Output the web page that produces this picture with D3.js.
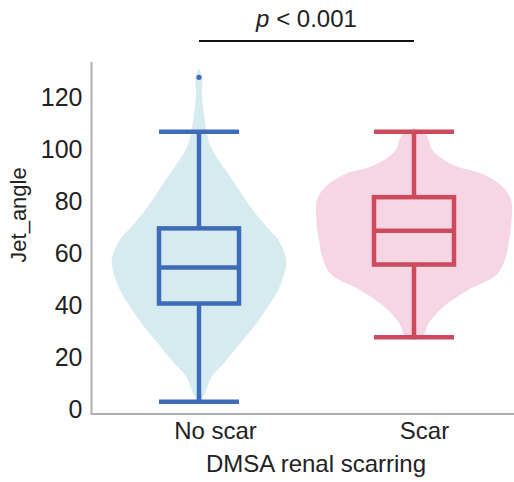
<!DOCTYPE html>
<html>
<head>
<meta charset="utf-8">
<script src="https://cdn.jsdelivr.net/npm/d3@7/dist/d3.min.js"></script>
<style>
  html, body { margin: 0; padding: 0; background: #fff; }
  svg text { font-family: "Liberation Sans", Arial, sans-serif; fill: #222; }
</style>
</head>
<body>
<svg id="chart" width="514" height="482"></svg>
<script>
// Groups on the x axis
const categories = ["No scar", "Scar"];

// Box-plot summaries per group: whisker low, Q1, median, Q3, whisker high
const whiskerLow  = [2.8, 27.6];
const q1          = [40.6, 55.6];
const median      = [54.5, 68.6];
const q3          = [69.5, 81.5];
const whiskerHigh = [106.7, 106.7];
const outliers    = [[127.6], []];

// Kernel density profiles (value, relative density) for each violin
const densityNoScar = [
  [2.3, 0.00], [6, 0.06], [12.4, 0.13], [18.8, 0.28], [25.3, 0.42],
  [31.7, 0.56], [38, 0.68], [44.5, 0.79], [50.9, 0.86], [57.3, 0.89],
  [65, 0.81], [70.1, 0.69], [76.5, 0.55], [83, 0.43], [89.3, 0.32],
  [95.8, 0.20], [102, 0.11], [108.6, 0.07], [115, 0.045], [121.4, 0.03],
  [127.6, 0.035], [131, 0.0]
];
const densityScar = [
  [26.5, 0.00], [28, 0.09], [33, 0.15], [39, 0.29], [46, 0.56],
  [52, 0.85], [59, 0.94], [65, 0.97], [70, 0.99], [78, 1.0],
  [80.5, 0.99], [84, 0.94], [87, 0.86], [91, 0.66], [93, 0.46],
  [97, 0.26], [100, 0.18], [103.5, 0.15], [106.5, 0.10], [108, 0.0]
];
const densities = [densityNoScar, densityScar];

const yTicks = [0, 20, 40, 60, 80, 100, 120];

const fills   = ["#d5ebf0", "#f6d5e5"];
const strokes = ["#3f6cb8", "#cc4a5a"];

const svg = d3.select("#chart");

const x = d3.scalePoint().domain(categories).range([91.5, 521.5]).padding(0.5);
const y = d3.scaleLinear().domain([-1.9, 133.5]).range([414, 62]);
const w = d3.scaleLinear().domain([0, 1]).range([0, 98]);

const boxW = 80;

// violins: mirrored density outline around each group centre
const outline = d3.line().curve(d3.curveCatmullRom);
categories.forEach((c, i) => {
  const cx = x(c);
  const right = densities[i].map(d => [cx + w(d[1]), y(d[0])]);
  const left = densities[i].slice().reverse().map(d => [cx - w(d[1]), y(d[0])]);
  svg.append("path")
    .attr("d", outline(right) + "L" + outline(left).slice(1) + "Z")
    .attr("fill", fills[i]);
});

// boxes and whiskers
categories.forEach((c, i) => {
  const cx = x(c);
  const g = svg.append("g")
    .attr("stroke", strokes[i])
    .attr("stroke-width", 4.5)
    .attr("fill", "none");
  g.append("line").attr("x1", cx).attr("x2", cx)
    .attr("y1", y(whiskerHigh[i])).attr("y2", y(q3[i]));
  g.append("line").attr("x1", cx).attr("x2", cx)
    .attr("y1", y(q1[i])).attr("y2", y(whiskerLow[i]));
  [whiskerHigh[i], whiskerLow[i], median[i]].forEach(v => {
    g.append("line")
      .attr("x1", cx - boxW / 2).attr("x2", cx + boxW / 2)
      .attr("y1", y(v)).attr("y2", y(v));
  });
  g.append("rect")
    .attr("x", cx - boxW / 2).attr("width", boxW)
    .attr("y", y(q3[i])).attr("height", y(q1[i]) - y(q3[i]));
  outliers[i].forEach(v => {
    svg.append("circle").attr("cx", cx).attr("cy", y(v)).attr("r", 2.6)
      .attr("fill", strokes[i]);
  });
});

// axes
const yAxis = svg.append("g").attr("transform", "translate(91.5,0)")
  .call(d3.axisLeft(y).tickValues(yTicks).tickSize(0).tickPadding(9));
yAxis.select(".domain").attr("stroke", "#b0b0b0").attr("stroke-width", 2)
  .attr("d", "M0,62V414");
yAxis.selectAll("text").attr("font-size", 25).attr("fill", "#222");

const xAxis = svg.append("g").attr("transform", "translate(0,414)")
  .call(d3.axisBottom(x).tickSize(0).tickPadding(8));
xAxis.select(".domain").attr("stroke", "#b0b0b0").attr("stroke-width", 2)
  .attr("d", "M90.5,0H514");
xAxis.selectAll("text").attr("font-size", 24).attr("fill", "#222")
  .attr("dx", (d, i) => i === 0 ? 16 : 10);

// axis titles
svg.append("text")
  .attr("x", 316).attr("y", 472)
  .attr("text-anchor", "middle").attr("font-size", 24)
  .text("DMSA renal scarring");
svg.append("text")
  .attr("transform", "translate(26,215) rotate(-90)")
  .attr("text-anchor", "middle").attr("font-size", 22)
  .text("Jet_angle");

// significance bracket
svg.append("line")
  .attr("x1", x(categories[0])).attr("x2", x(categories[1]))
  .attr("y1", 41).attr("y2", 41)
  .attr("stroke", "#111").attr("stroke-width", 2);
const pText = svg.append("text")
  .attr("x", x(categories[0]) + (x(categories[1]) - x(categories[0])) / 2)
  .attr("y", 27).attr("text-anchor", "middle").attr("font-size", 24);
pText.append("tspan").attr("font-style", "italic").text("p");
pText.append("tspan").text(" < 0.001");
</script>
</body>
</html>
